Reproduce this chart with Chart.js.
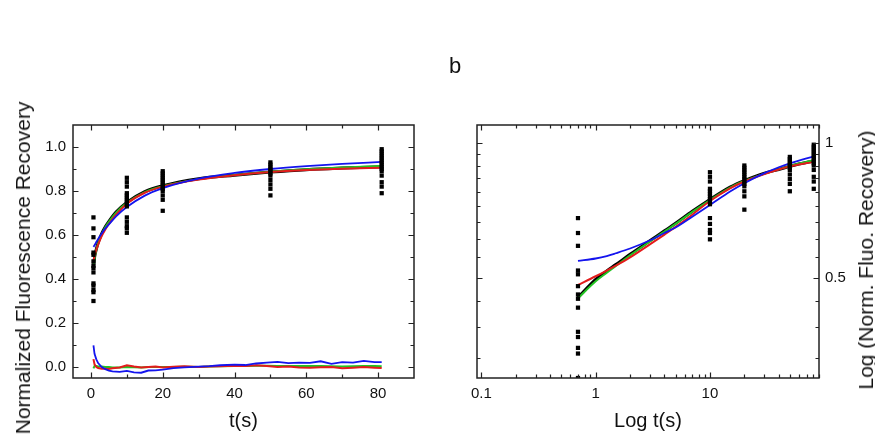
<!DOCTYPE html>
<html>
<head>
<meta charset="utf-8">
<script src="https://cdn.jsdelivr.net/npm/chart.js@4.4.0/dist/chart.umd.min.js"></script>
<style>
  body { margin: 0; background: #fff; }
  #wrap { position: relative; width: 875px; height: 448px; font-family: "Liberation Sans", Arial, sans-serif; color: #111; }
  .pane { position: absolute; top: 0; height: 448px; }
  .txt { position: absolute; white-space: nowrap; transform: translate(-50%, -50%); }
  .ytitle { font-size: 21px; transform: translate(-50%, -50%) rotate(-90deg); }
</style>
</head>
<body>
<div id="wrap">
  <div class="pane" style="left:0;width:440px"><canvas id="linChart" width="440" height="448"></canvas></div>
  <div class="pane" style="left:440px;width:435px"><canvas id="logChart" width="435" height="448"></canvas></div>
  <div class="txt" style="left:455px;top:66px;font-size:22px">b</div>
  <div class="txt ytitle" style="left:23px;top:268px">Normalized Fluorescence Recovery</div>
  <div class="txt ytitle" style="left:866px;top:260px">Log (Norm. Fluo. Recovery)</div>
</div>
<script>
// points experimentaux (carres noirs) par instant
const pointTimes = [0.7, 10, 20, 50, 81];
const pointsT07 = [0.68, 0.63, 0.59, 0.52, 0.51, 0.48, 0.46, 0.45, 0.43, 0.38, 0.37, 0.35, 0.34, 0.30];
const pointsT10 = [0.86, 0.84, 0.82, 0.79, 0.78, 0.77, 0.76, 0.75, 0.74, 0.73, 0.68, 0.66, 0.64, 0.63, 0.61];
const pointsT20 = [0.89, 0.88, 0.87, 0.86, 0.85, 0.84, 0.83, 0.82, 0.81, 0.80, 0.78, 0.76, 0.71];
const pointsT50 = [0.93, 0.92, 0.91, 0.90, 0.89, 0.88, 0.87, 0.85, 0.83, 0.81, 0.78];
const pointsT81 = [0.99, 0.98, 0.97, 0.96, 0.95, 0.94, 0.93, 0.92, 0.91, 0.90, 0.89, 0.87, 0.84, 0.82, 0.79];

// courbe moyenne et ajustements
const fitTimes  = [0.7, 1, 1.25, 1.5, 2, 3, 4, 5, 7, 10, 15, 20, 30, 40, 50, 60, 70, 81];
const blackMean = [0.453, 0.497, 0.519, 0.536, 0.565, 0.606, 0.637, 0.662, 0.704, 0.748, 0.797, 0.824, 0.856, 0.872, 0.886, 0.897, 0.904, 0.910];
const greenFit  = [0.451, 0.492, 0.514, 0.532, 0.562, 0.604, 0.635, 0.660, 0.702, 0.746, 0.795, 0.822, 0.854, 0.873, 0.888, 0.899, 0.907, 0.914];
const redFit    = [0.483, 0.505, 0.520, 0.533, 0.556, 0.595, 0.625, 0.650, 0.692, 0.742, 0.792, 0.820, 0.852, 0.872, 0.886, 0.895, 0.901, 0.906];
const blueFit   = [0.546, 0.553, 0.560, 0.568, 0.582, 0.607, 0.630, 0.648, 0.685, 0.727, 0.779, 0.813, 0.856, 0.882, 0.900, 0.913, 0.923, 0.932];

// residus
const residTimes = [0.7, 1, 1.5, 2, 3, 4, 5, 6, 8, 10, 12, 14, 16, 18, 20, 23, 26, 30, 33, 36, 40, 43, 46, 49, 52, 55, 58, 61, 64, 67, 70, 73, 76, 79, 81];
const blueResid  = [0.098, 0.06, 0.035, 0.018, 0.0, -0.01, -0.016, -0.02, -0.022, -0.018, -0.024, -0.026, -0.016, -0.015, -0.012, -0.005, -0.002, 0.002, 0.004, 0.008, 0.011, 0.009, 0.016, 0.02, 0.023, 0.018, 0.02, 0.019, 0.026, 0.014, 0.022, 0.02, 0.028, 0.022, 0.022];
const redResid   = [0.036, 0.012, 0.0, -0.005, -0.008, -0.008, -0.009, -0.006, -0.002, 0.008, 0.002, -0.002, 0.0, 0.002, -0.002, 0.001, 0.003, 0.0, 0.002, 0.003, 0.006, 0.004, 0.008, 0.005, 0.0, 0.002, -0.002, -0.003, -0.001, 0.0, -0.006, -0.003, 0.0, -0.003, -0.005];
const greenResid = [-0.006, 0.004, 0.004, 0.002, 0.002, 0.0, 0.0, -0.002, -0.002, 0.0, -0.001, -0.002, 0.0, 0.0, 0.0, 0.0, 0.001, 0.0, 0.002, 0.003, 0.004, 0.005, 0.006, 0.006, 0.004, 0.005, 0.004, 0.004, 0.005, 0.003, 0.002, 0.003, 0.005, 0.004, 0.003];

// graduations
const linXTicks = [0, 10, 20, 30, 40, 50, 60, 70, 80];
const linXLabels = [0, 20, 40, 60, 80];
const linYTicks = [0, 0.1, 0.2, 0.3, 0.4, 0.5, 0.6, 0.7, 0.8, 0.9, 1.0];
const linYLabels = [0, 0.2, 0.4, 0.6, 0.8, 1.0];
const logXTicks = [0.1, 0.2, 0.3, 0.4, 0.5, 0.6, 0.7, 0.8, 0.9, 1, 2, 3, 4, 5, 6, 7, 8, 9, 10, 20, 30, 40, 50, 60, 70, 80, 90];
const logXLabels = [0.1, 1, 10];
const logYTicks = [1, 0.944, 0.889, 0.833, 0.778, 0.722, 0.667, 0.611, 0.556, 0.5, 0.444, 0.389, 0.333];
const logYLabels = [1, 0.5];

const BLUE = "#1414ee", RED = "#e31c1c", GREEN = "#22c422";
const tickFont = { family: "Liberation Sans", size: 15 };
const titleFont = { family: "Liberation Sans", size: 20 };

const pointGroups = [pointsT07, pointsT10, pointsT20, pointsT50, pointsT81];
const scatterData = [];
pointGroups.forEach((g, i) => g.forEach(v => scatterData.push({ x: pointTimes[i], y: v })));
const xy = (xs, ys) => xs.map((x, i) => ({ x: x, y: ys[i] }));

function setTicks(list, labels) {
  return scale => {
    scale.ticks = list.map(v => ({ value: v, major: labels.includes(v) }));
  };
}

// cadre et graduations interieures sur les quatre cotes
const frameTicks = {
  id: "frameTicks",
  afterDraw(chart) {
    const { ctx, chartArea: a } = chart;
    const xs = chart.scales.x, ys = chart.scales.y;
    ctx.save();
    ctx.strokeStyle = "#222";
    ctx.lineWidth = 1.2;
    ctx.beginPath();
    xs.ticks.forEach(t => {
      const px = Math.round(xs.getPixelForValue(t.value)) + 0.5;
      const len = t.major ? 5.5 : 3.5;
      ctx.moveTo(px, a.bottom); ctx.lineTo(px, a.bottom - len);
      ctx.moveTo(px, a.top); ctx.lineTo(px, a.top + len);
    });
    ys.ticks.forEach(t => {
      const py = Math.round(ys.getPixelForValue(t.value)) + 0.5;
      const len = t.major ? 5.5 : 3.5;
      ctx.moveTo(a.left, py); ctx.lineTo(a.left + len, py);
      ctx.moveTo(a.right, py); ctx.lineTo(a.right - len, py);
    });
    ctx.stroke();
    ctx.lineWidth = 1.5;
    ctx.strokeRect(a.left, a.top, a.right - a.left, a.bottom - a.top);
    ctx.restore();
  }
};

function curve(data, color, width, order) {
  return { type: "line", data: data, borderColor: color, borderWidth: width, pointRadius: 0,
           cubicInterpolationMode: "monotone", fill: false, order: order };
}

const pointSet = { type: "scatter", data: scatterData, pointStyle: "rect", pointRadius: 3,
                   backgroundColor: "#000", borderWidth: 0, order: 0 };

// graphique lineaire
new Chart(document.getElementById("linChart"), {
  type: "scatter",
  data: {
    datasets: [
      pointSet,
      curve(xy(fitTimes, blackMean), "#000", 3, 6),
      curve(xy(fitTimes, greenFit), GREEN, 2, 5),
      curve(xy(fitTimes, redFit), RED, 2, 3),
      curve(xy(fitTimes, blueFit), BLUE, 1.8, 2),
      { ...curve(xy(residTimes, greenResid), GREEN, 2, 5), cubicInterpolationMode: "default", tension: 0 },
      { ...curve(xy(residTimes, redResid), RED, 2, 4), cubicInterpolationMode: "default", tension: 0 },
      { ...curve(xy(residTimes, blueResid), BLUE, 1.8, 3), cubicInterpolationMode: "default", tension: 0 }
    ]
  },
  options: {
    responsive: false,
    animation: false,
    devicePixelRatio: 1,
    layout: { padding: { top: 125, right: 26, left: 0, bottom: 0 } },
    plugins: { legend: { display: false }, tooltip: { enabled: false } },
    scales: {
      x: {
        type: "linear", min: -5, max: 90, bounds: "data",
        afterBuildTicks: setTicks(linXTicks, linXLabels),
        afterFit: s => { s.height = 70; },
        grid: { display: false, drawTicks: false }, border: { display: false },
        ticks: { autoSkip: false, maxRotation: 0, padding: 7, color: "#111", font: tickFont,
                 callback: v => linXLabels.includes(v) ? String(v) : "" },
        title: { display: true, text: "t(s)", color: "#111", font: titleFont, padding: { top: 4, bottom: 15 } }
      },
      y: {
        type: "linear", min: -0.05, max: 1.1, bounds: "data",
        afterBuildTicks: setTicks(linYTicks, linYLabels),
        afterFit: s => { s.width = 73; },
        grid: { display: false, drawTicks: false }, border: { display: false },
        ticks: { autoSkip: false, padding: 7, color: "#111", font: tickFont,
                 callback: v => linYLabels.includes(v) ? v.toFixed(1) : "" }
      }
    }
  },
  plugins: [frameTicks]
});

// graphique log-log
new Chart(document.getElementById("logChart"), {
  type: "scatter",
  data: {
    datasets: [
      pointSet,
      curve(xy(fitTimes, blackMean), "#000", 3, 6),
      curve(xy(fitTimes, greenFit), GREEN, 2, 5),
      curve(xy(fitTimes, redFit), RED, 2, 3),
      curve(xy(fitTimes, blueFit), BLUE, 1.8, 2)
    ]
  },
  options: {
    responsive: false,
    animation: false,
    devicePixelRatio: 1,
    layout: { padding: { top: 125, right: 0, left: 37, bottom: 0 } },
    plugins: { legend: { display: false }, tooltip: { enabled: false } },
    scales: {
      x: {
        type: "logarithmic", min: 0.0915, max: 90, bounds: "data",
        afterBuildTicks: setTicks(logXTicks, logXLabels),
        afterFit: s => { s.height = 70; },
        grid: { display: false, drawTicks: false }, border: { display: false },
        ticks: { autoSkip: false, maxRotation: 0, padding: 7, color: "#111", font: tickFont,
                 callback: v => logXLabels.includes(v) ? String(v) : "" },
        title: { display: true, text: "Log t(s)", color: "#111", font: titleFont, padding: { top: 4, bottom: 15 } }
      },
      y: {
        type: "logarithmic", position: "right", min: 0.3, max: 1.095, bounds: "data",
        afterBuildTicks: setTicks(logYTicks, logYLabels),
        afterFit: s => { s.width = 56; },
        grid: { display: false, drawTicks: false }, border: { display: false },
        ticks: { autoSkip: false, padding: 6, color: "#111", font: tickFont,
                 callback: v => logYLabels.includes(v) ? String(v) : "" }
      }
    }
  },
  plugins: [frameTicks]
});
</script>
</body>
</html>
